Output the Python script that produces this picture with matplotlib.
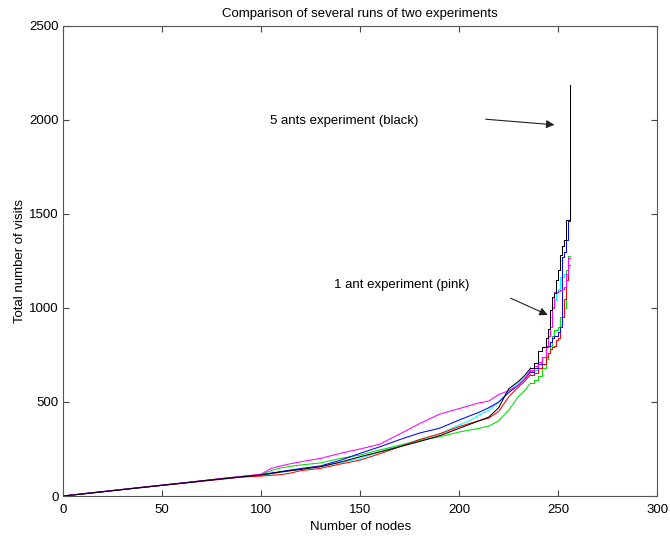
import matplotlib
matplotlib.use('Agg')
import matplotlib.pyplot as plt

plt.rcParams['font.family'] = ['Liberation Sans', 'DejaVu Sans']

nodes = [0, 10, 20, 30, 40, 50, 60, 70, 80, 90, 100, 105, 110, 115, 120, 130, 140, 150,
         160, 170, 180, 190, 200, 205, 210, 215, 220, 225, 230, 233, 236, 238, 240, 242,
         244, 245, 246, 247, 248, 249, 250, 251, 252, 253, 254, 255, 256]

# total visits per run (sorted), one list per colour
black = [0, 11, 23, 34, 46, 57, 68, 80, 91, 102, 112, 120, 128, 135, 142, 156, 180, 209,
         235, 262, 290, 320, 360, 380, 400, 420, 470, 570, 610, 640, 680, 706, 770, 790,
         840, 890, 990, 1060, 1080, 1150, 1200, 1280, 1330, 1360, 1468, 1468, 2186]
blue = [0, 12, 23, 35, 46, 58, 69, 80, 92, 103, 113, 122, 130, 138, 146, 160, 190, 227,
        262, 300, 335, 360, 404, 425, 445, 470, 500, 550, 590, 620, 660, 680, 700, 740,
        790, 800, 820, 840, 850, 850, 870, 900, 1270, 1300, 1360, 1460, 1771]
red = [0, 11, 22, 34, 45, 56, 67, 78, 89, 100, 106, 110, 114, 122, 135, 147, 170, 191,
       225, 262, 300, 330, 369, 385, 400, 415, 450, 528, 580, 610, 645, 654, 680, 700,
       740, 760, 780, 794, 800, 830, 840, 900, 954, 1050, 1150, 1230, 1230]
green = [0, 11, 23, 35, 46, 57, 69, 81, 93, 104, 114, 135, 150, 158, 165, 176, 200, 218,
         245, 270, 295, 315, 340, 350, 360, 372, 400, 457, 530, 560, 600, 617, 640, 680,
         730, 760, 800, 850, 883, 883, 900, 954, 954, 1000, 1202, 1275, 1275]
cyan = [0, 11, 22, 34, 45, 57, 68, 79, 90, 101, 111, 118, 126, 134, 142, 156, 178, 200,
        235, 268, 300, 330, 378, 400, 430, 457, 500, 560, 600, 630, 665, 670, 700, 740,
        790, 850, 950, 1006, 1040, 1080, 1100, 1167, 1167, 1180, 1200, 1220, 1220]
magenta = [0, 12, 24, 35, 47, 58, 69, 81, 93, 104, 116, 147, 160, 172, 182, 200, 227, 250,
           276, 330, 385, 435, 465, 480, 495, 505, 540, 560, 590, 620, 670, 690, 715, 740,
           800, 850, 900, 1000, 1087, 1087, 1090, 1095, 1100, 1110, 1180, 1265, 1265]

runs = [('#00ffff', cyan), ('#00dd00', green), ('#ff0000', red), ('#0000ff', blue),
        ('#ff00ff', magenta), ('#000000', black)]

fig = plt.figure(figsize=(6.7, 5.36), dpi=100)
ax = fig.add_axes([0.094, 0.0746, 0.887, 0.877])

# smooth part drawn as lines, the steep tail as visible stairs
cut = nodes.index(236)
for col, vals in runs:
    ax.plot(nodes[:cut + 1], vals[:cut + 1], color=col, lw=0.75)
    ax.plot(nodes[cut:], vals[cut:], color=col, lw=0.75, drawstyle='steps-post')

ax.set_xlim(0, 300)
ax.set_ylim(0, 2500)
ax.set_xticks([0, 50, 100, 150, 200, 250, 300])
ax.set_yticks([0, 500, 1000, 1500, 2000, 2500])
ax.tick_params(direction='in', top=True, right=True, labelsize=9.5, length=4,
               color='#444444')
ax.tick_params(axis='x', pad=6)
ax.tick_params(axis='y', pad=3)
for s in ax.spines.values():
    s.set_color('#555555')
    s.set_linewidth(0.8)

ax.set_title('Comparison of several runs of two experiments', fontsize=9.5, pad=6.5)
ax.set_xlabel('Number of nodes', fontsize=9.5, labelpad=3)
ax.set_ylabel('Total number of visits', fontsize=9.5, labelpad=2)

ax.annotate('', xy=(249.5, 1973), xytext=(212, 2005),
            arrowprops=dict(arrowstyle='-|>', color='#222222', lw=0.8, mutation_scale=12))
ax.text(104.5, 1995, '5 ants experiment (black)', fontsize=9.5, va='center')
ax.annotate('', xy=(246, 957), xytext=(224.7, 1058),
            arrowprops=dict(arrowstyle='-|>', color='#222222', lw=0.8, mutation_scale=12))
ax.text(137, 1122, '1 ant experiment (pink)', fontsize=9.5, va='center')

fig.savefig('out.png', dpi=100)
